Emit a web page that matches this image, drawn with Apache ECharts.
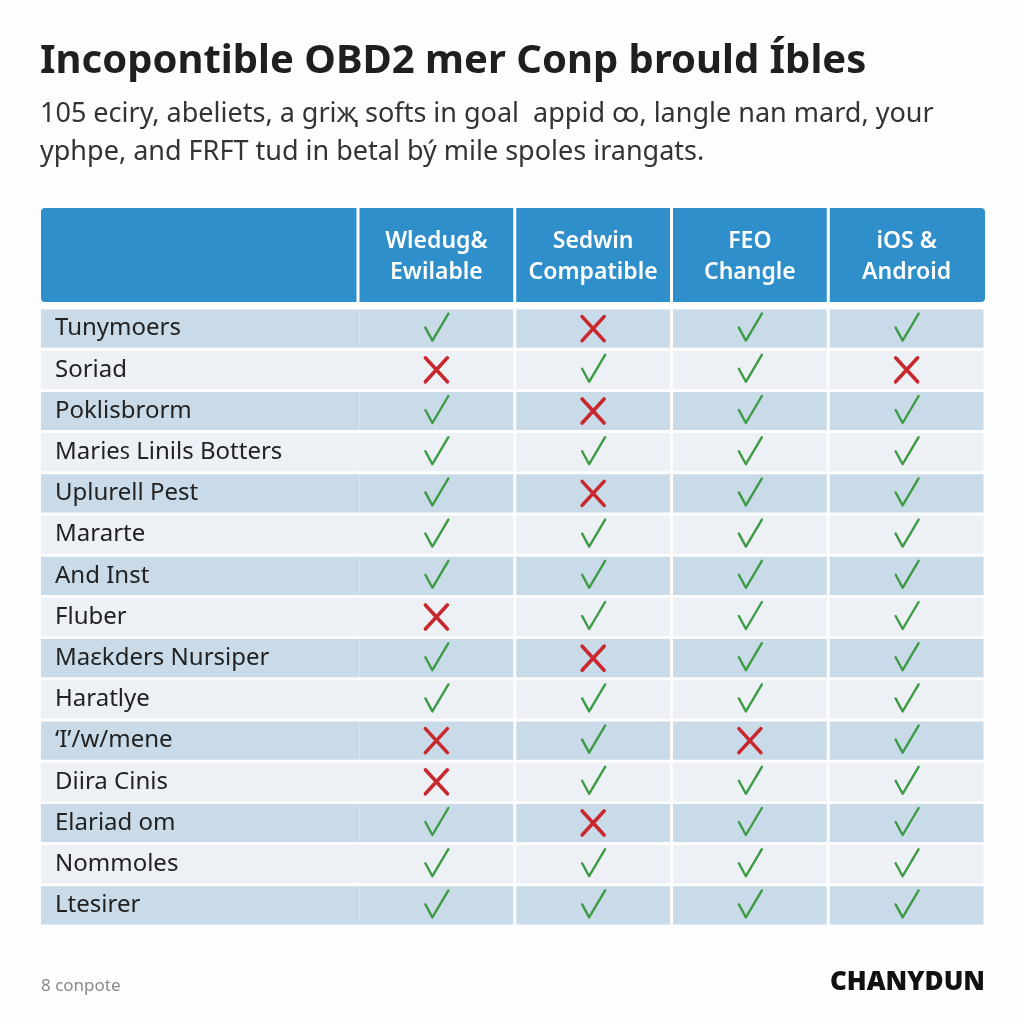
<!DOCTYPE html>
<html><head><meta charset="utf-8">
<script src="https://cdn.jsdelivr.net/npm/echarts@6/dist/echarts.min.js"></script>
<style>html,body{margin:0;padding:0;background:#fdfdfd}#c{width:1024px;height:1024px}</style>
</head><body><div id="c"></div>
<script>
const titleText = 'Incopontible OBD2 mer Conp brould Íbles';
const subtitleText = '105 eciry, abeliets, a griҗ softs in goal  appid ꝏ, langle nan mard, your\nyphpe, and FRFT tud in betal bý mile spoles irangats.';
const footLeft = '8 conpote';
const footRight = 'CHANYDUN';
const columns = ['Wledug&\nEwilable', 'Sedwin\nCompatible', 'FEO\nChangle', 'iOS &\nAndroid'];
const rows = ['Tunymoers', 'Soriad', 'Poklisbrorm', 'Marieꜱ Linils Botters', 'Uplurell Pest', 'Mararte', 'And Inst', 'Fluber', 'Maɛkders Nursiper', 'Haratlye', '‘I’/w/mene', 'Diira Cinis', 'Elariad om', 'Nommoles', 'Ltesirer'];
// 1 = compatible (check), 0 = not (cross)
const wledug = [1,0,1,1,1,1,1,0,1,1,0,0,1,1,1];
const sedwin = [0,1,0,1,0,1,1,1,0,1,1,1,0,1,1];
const feo    = [1,1,1,1,1,1,1,1,1,1,0,1,1,1,1];
const iosAndroid = [1,0,1,1,1,1,1,1,1,1,1,1,1,1,1];
const colValues = [wledug, sedwin, feo, iosAndroid];

const data = [];
colValues.forEach((arr, c) => arr.forEach((v, r) => data.push([c, r, v])));

const FONT = 'Noto Sans';
const DARK = '#c9dbe8', LIGHT = '#edf1f5', HEAD = '#2f8fcb';
const LABEL_COL_W = 317, HEAD_H = 94, HEAD_GAP = 6;

function renderItem(params, api) {
  const c = api.value(0), r = api.value(1), v = api.value(2);
  const p = api.coord([c, r]);
  const s = api.size([1, 1]);
  const x0 = p[0] - s[0] / 2, y0 = p[1] - s[1] / 2;
  const fill = r % 2 === 0 ? DARK : LIGHT;
  const children = [];
  children.push({type: 'rect', shape: {x: x0 + 1.5, y: y0 + 1.5, width: s[0] - 3, height: s[1] - 3}, style: {fill: fill}});
  if (c === 0) {
    const lx = params.coordSys.x - LABEL_COL_W;
    children.push({type: 'rect', shape: {x: lx, y: y0 + 1.5, width: x0 + 1.5 - lx, height: s[1] - 3}, style: {fill: fill}});
  }
  if (r === 0) {
    const hy = y0 - HEAD_GAP - HEAD_H;
    const last = c === colValues.length - 1;
    children.push({type: 'rect', shape: {x: x0 + 1.5, y: hy, width: s[0] - 3 + (last ? 1.5 : 0), height: HEAD_H, r: last ? [0, 4, 4, 0] : 0}, style: {fill: HEAD}});
    if (c === 0) {
      const lx = params.coordSys.x - LABEL_COL_W;
      children.push({type: 'rect', shape: {x: lx, y: hy, width: x0 + 1.5 - lx - 3, height: HEAD_H, r: [4, 0, 0, 4]}, style: {fill: HEAD}});
    }
  }
  if (v === 1) {
    children.push({type: 'polyline', shape: {points: [[p[0] - 11, p[1] - 1], [p[0] - 4, p[1] + 12], [p[0] + 12, p[1] - 15]]},
      style: {stroke: '#3d9b45', lineWidth: 2.4, fill: null, lineJoin: 'round', lineCap: 'round'}});
  } else {
    const a = 11, b = 12;
    children.push({type: 'line', shape: {x1: p[0] - a, y1: p[1] - b, x2: p[0] + a, y2: p[1] + b}, style: {stroke: '#c9282e', lineWidth: 3.6, lineCap: 'round'}});
    children.push({type: 'line', shape: {x1: p[0] + a, y1: p[1] - b, x2: p[0] - a, y2: p[1] + b}, style: {stroke: '#c9282e', lineWidth: 3.6, lineCap: 'round'}});
  }
  return {type: 'group', children: children};
}

const chart = echarts.init(document.getElementById('c'), null, {renderer: 'canvas'});
chart.setOption({
  backgroundColor: '#fdfdfd',
  animation: false,
  title: [
    {text: titleText, left: 35, top: 37, textStyle: {fontFamily: FONT, fontSize: 40, fontWeight: 'bold', color: '#1f1f1f'}},
    {text: subtitleText, left: 35, top: 90, textStyle: {fontFamily: FONT, fontSize: 27, fontWeight: 'normal', color: '#333', lineHeight: 38}},
    {text: footLeft, left: 36, top: 973, textStyle: {fontFamily: FONT, fontSize: 17, fontWeight: 'normal', color: '#8a8a8a'}},
    {text: footRight, right: 34, top: 965, textStyle: {fontFamily: FONT, fontSize: 26, fontWeight: 900, color: '#111'}}
  ],
  grid: {left: 358, right: 39, top: 308, bottom: 98},
  xAxis: {type: 'category', position: 'top', data: columns, z: 10,
    axisLine: {show: false}, axisTick: {show: false}, splitLine: {show: false},
    axisLabel: {color: '#fff', fontFamily: FONT, fontSize: 23, fontWeight: 600, lineHeight: 31, margin: 51, verticalAlign: 'middle', interval: 0}},
  yAxis: {type: 'category', data: rows, inverse: true, z: 10,
    axisLine: {show: false}, axisTick: {show: false}, splitLine: {show: false},
    axisLabel: {color: '#222', fontFamily: FONT, fontSize: 24, align: 'left', margin: 303, interval: 0, padding: [4, 0, 0, 0]}},
  series: [{type: 'custom', renderItem: renderItem, data: data, clip: false, z: 1}]
});
</script></body></html>
